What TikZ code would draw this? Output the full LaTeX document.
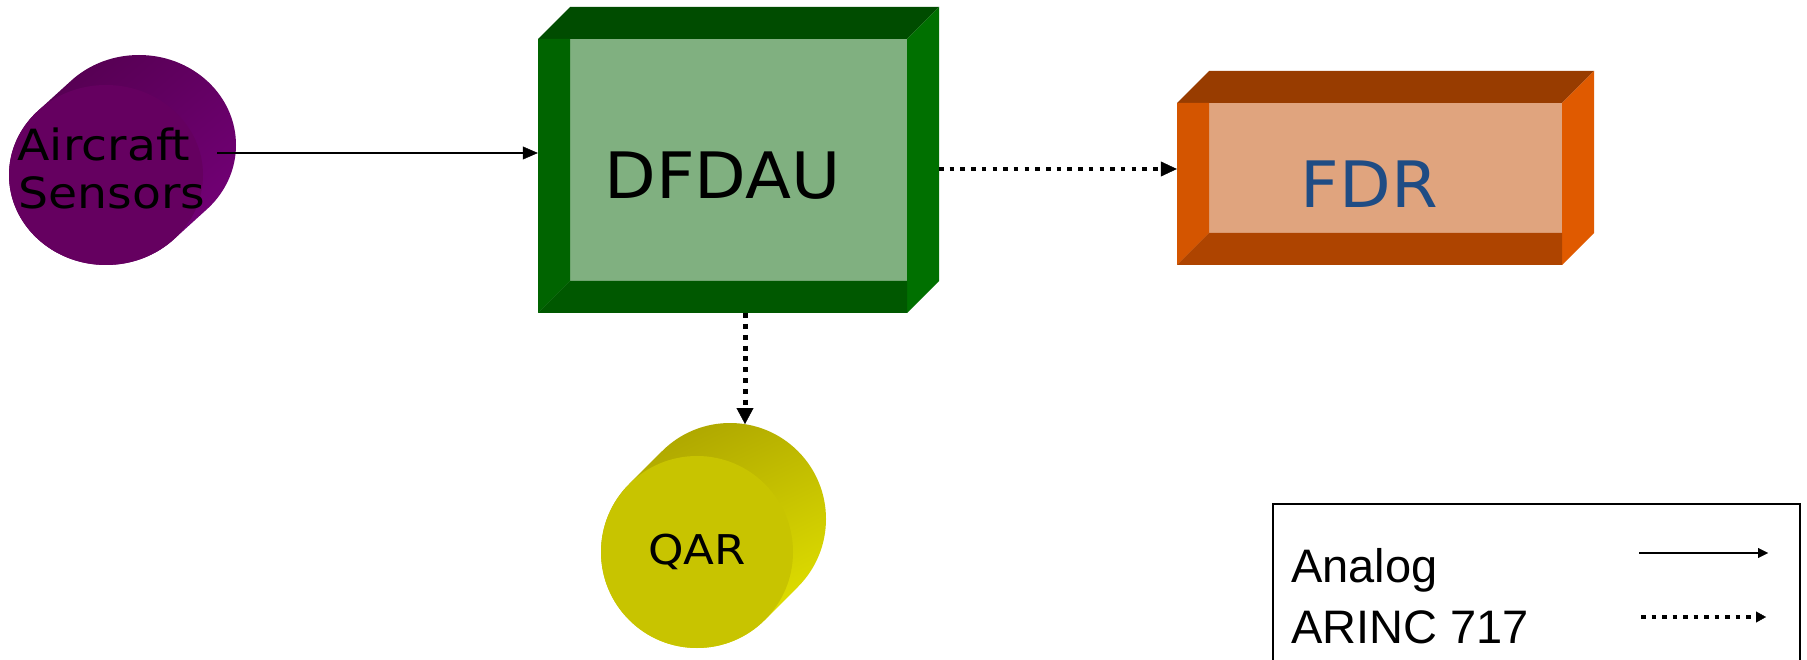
\documentclass[tikz,border=0pt]{standalone}
\usepackage{fontspec}
\setmainfont{Liberation Sans}
\newfontfamily\dvfont[FakeStretch=1.05]{DejaVu Sans}
\newfontfamily\dvsp[FakeStretch=1.1]{DejaVu Sans}
\usetikzlibrary{arrows.meta,shapes.geometric}
\definecolor{purpdark}{RGB}{84,0,80}
\definecolor{purpmid}{RGB}{100,0,98}
\definecolor{purpbright}{RGB}{116,0,120}
\definecolor{purpfront}{RGB}{101,0,96}
\definecolor{dtop}{RGB}{0,76,0}
\definecolor{dleft}{RGB}{0,100,0}
\definecolor{dbottom}{RGB}{0,88,0}
\definecolor{dright}{RGB}{0,112,0}
\definecolor{dinner}{RGB}{128,176,128}
\definecolor{ftop}{RGB}{152,60,0}
\definecolor{fleft}{RGB}{212,85,0}
\definecolor{fbottom}{RGB}{174,68,0}
\definecolor{fright}{RGB}{224,90,0}
\definecolor{finner}{RGB}{224,164,126}
\definecolor{fdrblue}{RGB}{31,76,132}
\definecolor{qdark}{RGB}{172,164,0}
\definecolor{qmid}{RGB}{204,200,0}
\definecolor{qbright}{RGB}{228,228,0}
\definecolor{qfront}{RGB}{200,196,0}
\begin{document}
\begin{tikzpicture}[x=1pt,y=-1pt,
  every node/.style={inner sep=0pt},
  solidarrow/.style={line width=2pt,-{Triangle[length=15pt,width=13pt,line width=0.4pt]}},
  dotarrow/.style={line width=4.5pt,dash pattern=on 4.5pt off 6.2pt,-{Triangle[length=16pt,width=15pt,line width=0.4pt]}},
  vdotarrow/.style={line width=5pt,dash pattern=on 5pt off 5.8pt,-{Triangle[length=16pt,width=17pt,line width=0.4pt]}},
  legsolid/.style={line width=2pt,-{Triangle[length=10pt,width=10pt,line width=0.4pt]}},
  legdot/.style={line width=4.5pt,dash pattern=on 4.5pt off 6pt,-{Triangle[length=10pt,width=11pt,line width=0.4pt]}},
  bignode/.style={font=\dvfont\fontsize{64}{77}\selectfont},
  senstext/.style={font=\dvsp\fontsize{43}{48}\selectfont,anchor=base},
  legtext/.style={font=\fontsize{47}{56}\selectfont,anchor=base west}]
\useasboundingbox (0,0) rectangle (1807,660);
\fill[white] (0,0) rectangle (1807,660);
\clip (0,0) rectangle (1807,660);

% Aircraft Sensors cylinder
\shade[top color=purpdark,middle color=purpmid,bottom color=purpbright,shading angle=40]
  (106,175) ++(45:97 and 90) arc[start angle=45,end angle=225,x radius=97,y radius=90]
  -- ++(33,-30) arc[start angle=225,end angle=405,x radius=97,y radius=90] -- cycle;
\node[ellipse,minimum width=194,minimum height=180,fill=purpfront] (sensors) at (106,175) {};
\node[senstext] (sensA) at (104,161) {Aircraft};
\node[senstext] (sensB) at (112,209) {Sensors};

% DFDAU box
\node[minimum width=369,minimum height=274,fill=dinner,bignode] (dfdau) at (722.5,176) {DFDAU};
\fill[dtop] (538,39) -- (570,7) -- (939,7) -- (907,39) -- cycle;
\fill[dright] (907,39) -- (939,7) -- (939,281) -- (907,313) -- cycle;
\fill[dleft] (538,39) -- (570,39) -- (570,281) -- (538,313) -- cycle;
\fill[dbottom] (538,313) -- (570,281) -- (907,281) -- (907,313) -- cycle;

% FDR box
\node[minimum width=385,minimum height=162,fill=finner,bignode,text=fdrblue] (fdr) at (1369.5,184) {FDR};
\fill[ftop] (1177,103) -- (1209,71) -- (1594,71) -- (1562,103) -- cycle;
\fill[fright] (1562,103) -- (1594,71) -- (1594,233) -- (1562,265) -- cycle;
\fill[fleft] (1177,103) -- (1209,103) -- (1209,233) -- (1177,265) -- cycle;
\fill[fbottom] (1177,265) -- (1209,233) -- (1562,233) -- (1562,265) -- cycle;

% QAR cylinder
\shade[top color=qdark,middle color=qmid,bottom color=qbright,shading angle=25]
  (697,552) ++(45:96) arc[start angle=45,end angle=225,radius=96]
  -- ++(33,-33) arc[start angle=225,end angle=405,radius=96] -- cycle;
\node[circle,minimum size=192,fill=qfront,font=\dvsp\fontsize{41}{48}\selectfont] (qar) at (697,552) {QAR};

% connectors
\coordinate (a0) at (217,153);
\draw[solidarrow] (a0) -- (a0 -| dfdau.west);
\coordinate (b0) at (939,169);
\draw[dotarrow] (b0) -- (b0 -| fdr.west);
\coordinate (c1) at (745,424);
\draw[vdotarrow] (c1 |- dfdau.south) -- (c1);

% legend
\draw[line width=2pt] (1273,504) rectangle (1800,720);
\node[legtext] (lg1) at (1291,582) {Analog};
\node[legtext] (lg2) at (1291,643) {ARINC 717};
\coordinate (ls0) at (1639,553);
\coordinate (ls1) at (1768,553);
\draw[legsolid] (ls0) -- (ls1);
\coordinate (ld0) at (1641,617);
\coordinate (ld1) at (1766,617);
\draw[legdot] (ld0) -- (ld1);
\end{tikzpicture}
\end{document}
